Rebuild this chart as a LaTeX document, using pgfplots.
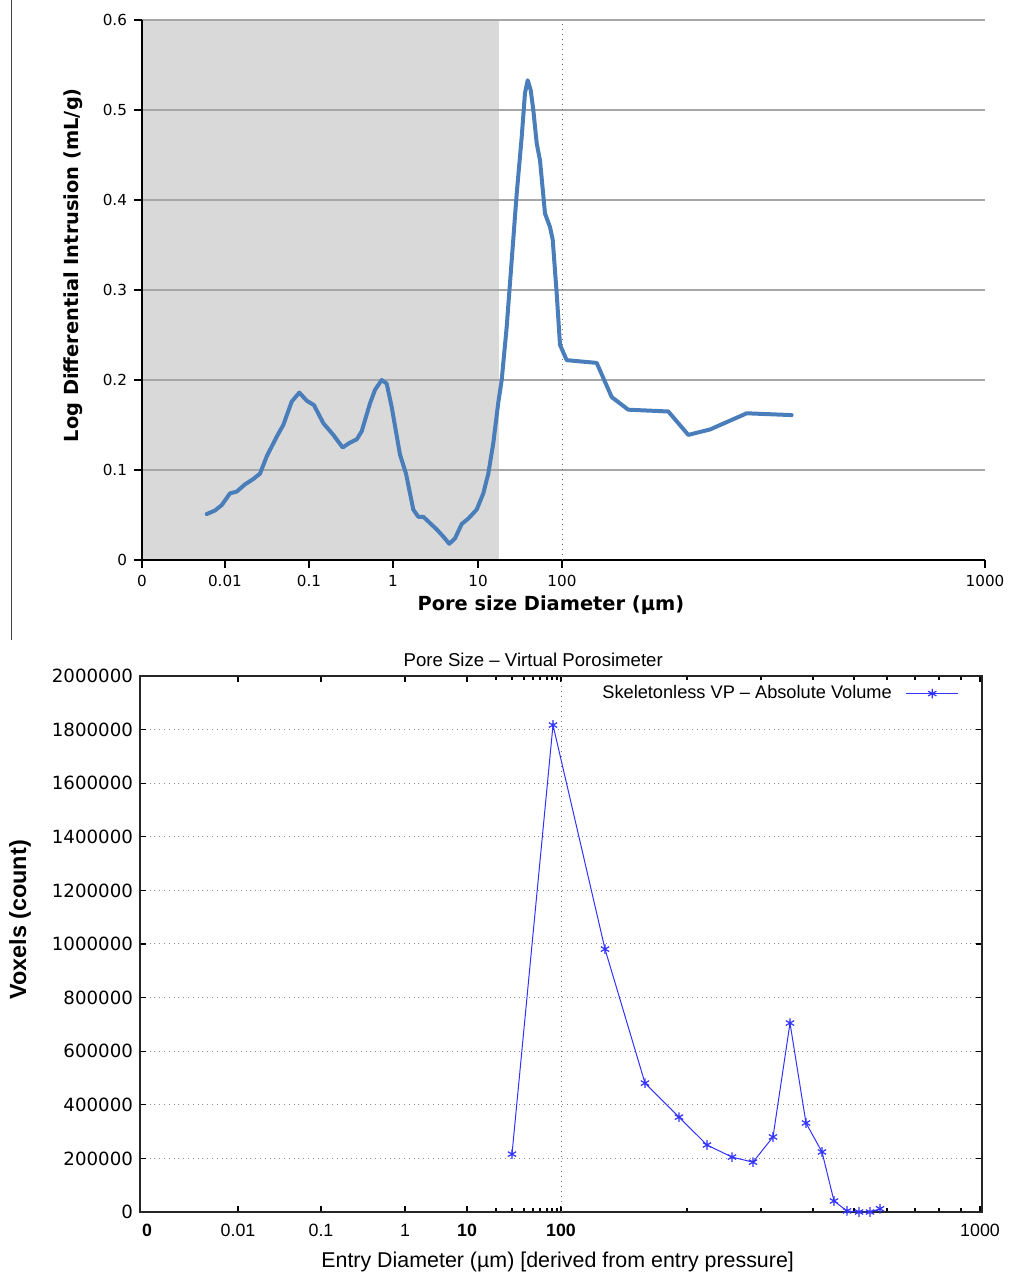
\documentclass[border=0pt]{standalone}
\usepackage{pgfplots}
\pgfplotsset{compat=1.18}
\usepackage{fontspec}
\setmainfont{DejaVu Sans}
\newfontfamily\lib{Liberation Sans}
\definecolor{curveblue}{RGB}{74,126,187}
\definecolor{shadegray}{RGB}{217,217,217}
\definecolor{gnublue}{RGB}{50,50,255}
\begin{document}
\begin{tikzpicture}[x=1pt,y=1pt]
\draw[black!75, line width=0.6pt] (5.75,317.5) -- (5.75,637.5);
% ---------------- top chart ----------------
\begin{axis}[
  at={(71pt,357.5pt)}, anchor=south west,
  scale only axis, width=421.5pt, height=270pt,
  set layers,
  xmin=142, xmax=985, ymin=0, ymax=0.6,
  axis x line*=bottom, axis y line*=left,
  axis line style={line width=1.1pt, -},
  xtick={142,225,309,393,478,562,985},
  xticklabels={0,0.01,0.1,1,10,100,1000},
  ytick={0,0.1,0.2,0.3,0.4,0.5,0.6},
  yticklabels={0,0.1,0.2,0.3,0.4,0.5,0.6},
  tick align=outside, major tick length=4pt,
  tick style={black, line width=0.8pt},
  ymajorgrids, major grid style={line width=0.6pt, black!35},
  ticklabel style={font=\fontsize{7.6}{9}\selectfont},
  xlabel={Pore size Diameter (µm)},
  ylabel={Log Differential Intrusion (mL/g)},
  label style={font=\bfseries\fontsize{9.7}{11}\selectfont},
  xlabel style={at={([yshift=-22.5pt]axis description cs:0.485,0)}, anchor=center},
  ylabel style={at={([xshift=-34.5pt]axis description cs:0,0.546)}, anchor=center},
]
\addplot[fill=shadegray, draw=none, on layer=axis background] coordinates {(142,0) (499,0) (499,0.6) (142,0.6)};
\addplot[black!60, dotted, line width=0.5pt] coordinates {(562,0) (562,0.6)};
\addplot[curveblue, line width=2pt, line join=round, line cap=round] coordinates {
(206.7,0.051) (215,0.055) (221.7,0.061) (230,0.074) (236.7,0.076) (245,0.084)
(253.3,0.090) (260,0.096) (266.7,0.115) (276.7,0.137) (283.3,0.150) (291.7,0.176)
(299.3,0.186) (306.7,0.177) (314,0.172) (323.3,0.152) (333.3,0.139) (342.7,0.125)
(349.3,0.130) (356.7,0.134) (361.7,0.143) (370,0.174) (375,0.189) (381.7,0.200)
(386.7,0.196) (391.7,0.170) (400,0.117) (406,0.096) (413.3,0.056) (418.3,0.048)
(423.3,0.048) (436.7,0.034) (443.3,0.026) (449.3,0.018) (455,0.024) (461.7,0.040)
(468.3,0.046) (476.7,0.056) (483.3,0.074) (488.3,0.096) (493.3,0.130) (498.3,0.175)
(501.7,0.200) (506.7,0.259) (511.7,0.333) (516.7,0.407) (521.7,0.470) (525,0.519)
(527.7,0.533) (530.7,0.522) (533.3,0.500) (536.7,0.463) (540,0.444) (545,0.385)
(550,0.370) (552.7,0.356) (556.7,0.296) (560,0.239) (566.7,0.222) (596.7,0.219)
(611.7,0.181) (628.3,0.167) (668.3,0.165) (688.3,0.139) (710,0.145) (746.7,0.163)
(791.7,0.161)};
\end{axis}
% ---------------- bottom chart ----------------
\begin{axis}[
  at={(70pt,31.5pt)}, anchor=south west,
  scale only axis, width=421pt, height=268pt,
  xmin=140, xmax=982, ymin=0, ymax=2000000,
  axis line style={line width=0.8pt, black!85},
  xtick={238,321,405,467,561,980},
  xticklabels={0.01,0.1,1,\textbf{10},\textbf{100},1000},
  extra x ticks={147},
  extra x tick labels={\textbf{0}},
  extra x tick style={major tick length=0pt},
  minor xtick={496,512,524,533,540,547,552,557,687,761,813,854,887,915,939,961},
  ytick={0,200000,400000,600000,800000,1000000,1200000,1400000,1600000,1800000,2000000},
  yticklabels={0,200000,400000,600000,800000,1000000,1200000,1400000,1600000,1800000,2000000},
  scaled y ticks=false,
  tick align=inside, major tick length=3pt, minor tick length=1.8pt,
  tick style={black, line width=0.6pt},
  ymajorgrids, major grid style={dotted, black!45, line width=0.5pt},
  yticklabel style={font=\fontsize{9.1}{10}\selectfont},
  xticklabel style={font=\lib\fontsize{8.9}{10}\selectfont, yshift=-2.5pt},
  title={Pore Size – Virtual Porosimeter},
  title style={at={([yshift=2pt]axis description cs:0.467,1)}, anchor=center, font=\lib\fontsize{9.3}{10}\selectfont},
  xlabel={Entry Diameter (µm) [derived from entry pressure]},
  ylabel={Voxels (count)},
  xlabel style={at={([yshift=-25pt]axis description cs:0.496,0)}, anchor=center, font=\lib\fontsize{10.7}{12}\selectfont},
  ylabel style={at={([xshift=-60pt]axis description cs:0,0.545)}, anchor=center, font=\lib\bfseries\fontsize{11.7}{13}\selectfont},
  legend style={at={(axis description cs:0.980,0.998)}, anchor=north east, draw=none, fill=none,
    font=\lib\fontsize{9.1}{10}\selectfont,
    /tikz/every odd column/.append style={column sep=5pt}},
  legend plot pos=right,
  legend image code/.code={\draw[mark repeat=2,mark phase=2,#1] plot coordinates {(0pt,0pt) (13pt,0pt) (26pt,0pt)};},
]
\addplot[black!55, dotted, line width=0.5pt, forget plot] coordinates {(561,0) (561,2000000)};
\addplot[gnublue, line width=0.5pt, mark=asterisk, mark size=2.4pt, mark options={line width=0.6pt}] coordinates {
(512,216000) (553,1817000) (605,981000) (645,481000) (679,354000) (707,250000)
(732,205000) (753,186000) (773,280000) (790,705000) (806,332000) (822,224000)
(834,41000) (847,4000) (859,0) (870,0) (880,12000)};
\addlegendentry{Skeletonless VP – Absolute Volume}
\end{axis}
\pgfresetboundingbox
\path[use as bounding box] (0,0) rectangle (505,637.5);
\end{tikzpicture}
\end{document}
